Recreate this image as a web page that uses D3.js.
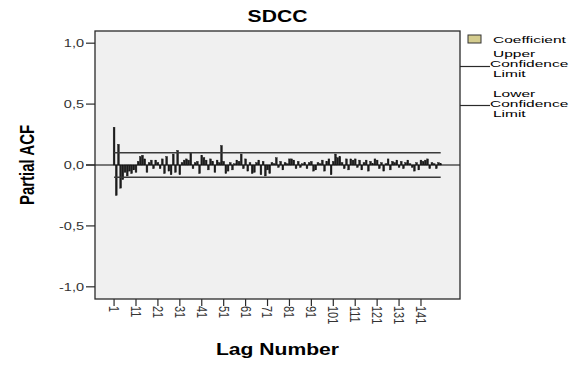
<!DOCTYPE html>
<html>
<head>
<meta charset="utf-8">
<script src="https://cdn.jsdelivr.net/npm/d3@7/dist/d3.min.js"></script>
<style>
  html, body { margin: 0; padding: 0; background: #ffffff; }
  svg { display: block; font-family: "Liberation Sans", Arial, sans-serif; }
</style>
</head>
<body>
<svg id="chart" width="583" height="365"></svg>
<script>
// Partial autocorrelation coefficients, lags 1..150
const pacf = [
  0.31, -0.25, 0.17, -0.19, -0.12, -0.06, -0.09, -0.05, -0.07, -0.04,
  -0.06, 0.03, 0.07, 0.08, 0.05, -0.06, 0.02, 0.04, -0.03, 0.04,
  0.02, -0.03, 0.05, -0.07, 0.07, -0.05, -0.08, 0.09, -0.06, 0.12,
  -0.08, 0.02, 0.04, 0.05, 0.04, 0.10, -0.03, 0.02, 0.03, -0.07,
  0.08, 0.06, 0.04, -0.04, 0.05, 0.03, -0.06, 0.04, 0.02, 0.16,
  0.03, -0.07, -0.05, 0.02, -0.04, 0.01, 0.04, 0.03, 0.09, -0.03,
  0.05, -0.05, 0.02, -0.07, -0.06, 0.02, 0.04, -0.08, 0.03, -0.09,
  -0.04, -0.07, 0.02, 0.01, 0.06, -0.02, 0.03, -0.04, 0.02, 0.01,
  0.05, 0.05, 0.04, -0.03, 0.03, -0.02, 0.01, 0.02, -0.03, 0.02,
  0.03, -0.05, -0.04, 0.02, 0.01, 0.04, -0.05, 0.03, 0.05, -0.08,
  0.03, 0.09, 0.06, 0.07, 0.02, -0.03, 0.05, -0.04, 0.05, 0.04,
  0.05, -0.02, 0.04, -0.04, 0.02, 0.04, -0.05, 0.03, 0.01, 0.05,
  0.04, -0.03, 0.02, -0.05, 0.01, 0.05, -0.04, 0.03, 0.02, 0.04,
  -0.02, 0.03, -0.03, 0.02, 0.04, 0.01, -0.02, -0.05, 0.02, -0.04,
  0.04, 0.03, 0.04, 0.05, -0.03, 0.02, 0.01, -0.03, 0.02, 0.01
];
const upperLimit = 0.10;
const lowerLimit = -0.10;
const xTickLags = [1, 11, 21, 31, 41, 51, 61, 71, 81, 91, 101, 111, 121, 131, 141];
const yTickValues = [-1.0, -0.5, 0.0, 0.5, 1.0];
const chartTitle = "SDCC";
const xTitle = "Lag Number";
const yTitle = "Partial ACF";
const legendItems = [
  { type: "swatch", lines: ["Coefficient"] },
  { type: "line", lines: ["Upper", "Confidence", "Limit"] },
  { type: "line", lines: ["Lower", "Confidence", "Limit"] }
];

const lags = pacf.map((v, i) => i + 1);
const SX = 1.32; // horizontal text widening

const svg = d3.select("#chart");
const plot = { left: 95, right: 460, top: 31, bottom: 299 };

const x = d3.scaleLinear().domain([-7.7, 158.8]).range([plot.left, plot.right]);
const y = d3.scaleLinear().domain([-1.1, 1.1]).range([plot.bottom, plot.top]);

function label(g, px, py, str, opts = {}) {
  const rot = opts.rotate ? ` rotate(${opts.rotate})` : "";
  return g.append("text")
    .attr("transform", `translate(${px},${py}) scale(${opts.sx || SX},1)${rot}`)
    .attr("text-anchor", opts.anchor || "start")
    .attr("dy", opts.dy || null)
    .attr("font-size", opts.size || 11)
    .attr("font-weight", opts.weight || "normal")
    .attr("fill", opts.fill || "#000")
    .text(str);
}

// plot background
svg.append("rect")
  .attr("x", plot.left).attr("y", plot.top)
  .attr("width", plot.right - plot.left).attr("height", plot.bottom - plot.top)
  .attr("fill", "#f0f0f0");

// zero reference line
svg.append("line")
  .attr("x1", plot.left - 9).attr("x2", plot.right)
  .attr("y1", y(0)).attr("y2", y(0))
  .attr("stroke", "#000").attr("stroke-width", 1.2);

// coefficient bars
svg.append("g").selectAll("rect")
  .data(pacf)
  .join("rect")
  .attr("x", (d, i) => x(lags[i]) - 0.9)
  .attr("width", 1.8)
  .attr("y", d => y(Math.max(0, d)))
  .attr("height", d => Math.abs(y(d) - y(0)))
  .attr("fill", "#1c1c1c")
  .attr("stroke", "#111")
  .attr("stroke-width", 0.4);

// confidence limits
[upperLimit, lowerLimit].forEach(v => {
  svg.append("line")
    .attr("x1", x(lags[0])).attr("x2", x(lags[lags.length - 1]))
    .attr("y1", y(v)).attr("y2", y(v))
    .attr("stroke", "#3a3a3a").attr("stroke-width", 1.4);
});

// frame
svg.append("rect")
  .attr("x", plot.left).attr("y", plot.top)
  .attr("width", plot.right - plot.left).attr("height", plot.bottom - plot.top)
  .attr("fill", "none").attr("stroke", "#2a2a2a").attr("stroke-width", 1.3);

// y axis ticks and labels
const yAxis = svg.append("g");
yTickValues.forEach(v => {
  yAxis.append("line")
    .attr("x1", plot.left - 9).attr("x2", plot.left)
    .attr("y1", y(v)).attr("y2", y(v))
    .attr("stroke", "#2a2a2a").attr("stroke-width", 1.2);
  label(yAxis, plot.left - 11, y(v), d3.format(".1f")(v).replace(".", ",").replace("−", "-"),
    { anchor: "end", dy: "0.35em", size: 11, fill: "#333" });
});

// x axis ticks and labels
const xAxis = svg.append("g");
xTickLags.forEach(l => {
  xAxis.append("line")
    .attr("x1", x(l)).attr("x2", x(l))
    .attr("y1", plot.bottom).attr("y2", plot.bottom + 7)
    .attr("stroke", "#2a2a2a").attr("stroke-width", 1.2);
  label(xAxis, x(l), plot.bottom + 7, String(l),
    { rotate: 90, anchor: "start", dy: "0.35em", size: 11, fill: "#333" });
});

// titles
label(svg, (plot.left + plot.right) / 2, 22, chartTitle, { anchor: "middle", size: 16, weight: "bold" });
label(svg, (plot.left + plot.right) / 2, 355, xTitle, { anchor: "middle", size: 16, weight: "bold" });
label(svg, 34, y(0), yTitle, { anchor: "middle", size: 15, weight: "bold", rotate: -90 });

// legend
const LSX = 1.72;
const lg = svg.append("g");
lg.append("rect")
  .attr("x", 468).attr("y", 35).attr("width", 13).attr("height", 8)
  .attr("fill", "#d4cc8e").attr("stroke", "#333").attr("stroke-width", 1);
label(lg, 493, 42.5, legendItems[0].lines[0], { size: 9, sx: LSX });

const lineRows = [
  { lineY: 66.5, baselines: [57, 67, 77] },
  { lineY: 105.5, baselines: [96.5, 106.5, 116.5] }
];
legendItems.slice(1).forEach((item, k) => {
  const row = lineRows[k];
  lg.append("line")
    .attr("x1", plot.right).attr("x2", 490)
    .attr("y1", row.lineY).attr("y2", row.lineY)
    .attr("stroke", "#2a2a2a").attr("stroke-width", 1.2);
  item.lines.forEach((t, j) => {
    label(lg, j === 1 ? 490 : 493, row.baselines[j], t, { size: 9, sx: LSX });
  });
});
</script>
</body>
</html>
